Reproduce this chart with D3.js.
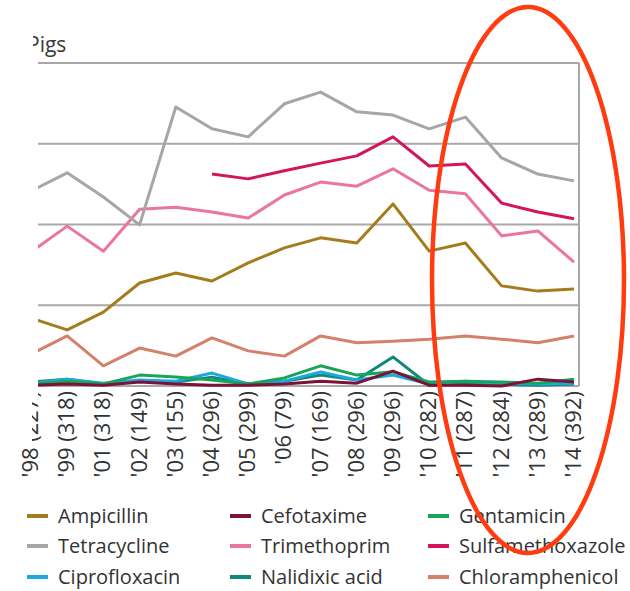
<!DOCTYPE html>
<html>
<head>
<meta charset="utf-8">
<script src="https://cdn.jsdelivr.net/npm/d3@7"></script>
<style>
  body { margin: 0; background: white; }
  svg text { font-family: "Open Sans", "Noto Sans", sans-serif; fill: #333; }
</style>
</head>
<body>
<svg id="chart" width="630" height="591"></svg>
<script>
// years on the x axis, with number of isolates
const years = ["'98", "'99", "'01", "'02", "'03", "'04", "'05", "'06", "'07", "'08", "'09", "'10", "'11", "'12", "'13", "'14"];
const isolates = [227, 318, 318, 149, 155, 296, 299, 79, 169, 296, 296, 282, 287, 284, 289, 392];

// % resistant
const ampicillin       = [16.8, 13.9, 18.3, 25.5, 28.0, 26.0, 30.5, 34.2, 36.7, 35.4, 45.1, 33.4, 35.4, 24.8, 23.5, 24.0];
const cefotaxime       = [0.2, 0.5, 0.2, 1.0, 0.5, 0.2, 0.2, 0.5, 1.2, 0.7, 3.7, 0.2, 0.2, 0.0, 1.7, 1.0];
const gentamicin       = [0.5, 1.2, 0.5, 2.7, 2.2, 1.5, 0.5, 2.0, 5.0, 2.7, 3.5, 1.0, 1.2, 1.0, 0.7, 1.7];
const tetracycline     = [48.3, 52.8, 46.8, 39.9, 69.1, 63.7, 61.7, 69.9, 72.8, 67.9, 67.1, 63.7, 66.6, 56.5, 52.5, 50.8];
const trimethoprim     = [33.2, 39.6, 33.4, 43.8, 44.3, 43.1, 41.6, 47.3, 50.5, 49.5, 53.8, 48.5, 47.6, 37.2, 38.4, 30.7];
const sulfamethoxazole = [null, null, null, null, null, 52.5, 51.3, 53.3, 55.2, 57.0, 61.7, 54.5, 55.0, 45.3, 43.1, 41.4];
const ciprofloxacin    = [0.7, 1.7, 0.7, 1.5, 1.2, 3.2, 0.5, 1.2, 3.5, 1.5, 2.7, 0.5, 1.2, 0.7, 0.5, 0.7];
const nalidixic        = [1.0, 1.7, 0.5, 1.2, 1.0, 2.2, 0.5, 1.2, 2.7, 1.5, 7.2, 0.2, 0.7, 0.5, 0.2, 0.5];
const chloramphenicol  = [7.9, 12.4, 5.0, 9.4, 7.4, 11.9, 8.7, 7.4, 12.4, 10.7, 11.1, 11.6, 12.4, 11.6, 10.7, 12.4];

const yTicks = [0, 20, 40, 60, 80];

const series = [
   { name: 'Ampicillin', values: ampicillin, color: '#a57c1b' },
   { name: 'Cefotaxime', values: cefotaxime, color: '#7d1238' },
   { name: 'Gentamicin', values: gentamicin, color: '#1aa45a' },
   { name: 'Tetracycline', values: tetracycline, color: '#a6a6a6' },
   { name: 'Trimethoprim', values: trimethoprim, color: '#ec74a0' },
   { name: 'Sulfamethoxazole', values: sulfamethoxazole, color: '#d2155c' },
   { name: 'Ciprofloxacin', values: ciprofloxacin, color: '#1ea8e0' },
   { name: 'Nalidixic acid', values: nalidixic, color: '#11897a' },
   { name: 'Chloramphenicol', values: chloramphenicol, color: '#d5806a' }
];

const svg = d3.select('#chart');

let x = d3.scalePoint().domain(years).range([31, 574]);
let y = d3.scaleLinear().domain([0, 80]).range([386, 63]);

// gridlines + right frame
svg.append('g')
   .selectAll('line')
   .data(yTicks)
   .enter().append('line')
   .attr('x1', 0).attr('x2', 579)
   .attr('y1', d => y(d)).attr('y2', d => y(d))
   .style('stroke', '#a8a8a8')
   .style('stroke-width', '2px');

svg.append('line')
   .attr('x1', 579).attr('x2', 579)
   .attr('y1', y(80)).attr('y2', y(0))
   .style('stroke', '#a8a8a8')
   .style('stroke-width', '2px');

// series lines (drawn in reverse so the first legend entries sit on top)
let line = d3.line()
   .defined(d => d.v != null)
   .x(d => x(d.year))
   .y(d => y(d.v));

svg.append('g')
   .selectAll('path')
   .data(series.slice().reverse())
   .enter().append('path')
   .attr('d', s => line(s.values.map((v, i) => ({ year: years[i], v: v }))))
   .style('fill', 'none')
   .style('stroke', s => s.color)
   .style('stroke-width', '3px')
   .style('stroke-linejoin', 'round');

// rotated year labels
svg.append('g')
   .selectAll('text')
   .data(years)
   .enter().append('text')
   .attr('transform', (d, i) => `translate(${x(d) + 7},391) rotate(-90)`)
   .attr('text-anchor', 'end')
   .style('font-size', '22px')
   .text((d, i) => `${d} (${isolates[i]})`);

// title
svg.append('text')
   .attr('x', 27).attr('y', 52)
   .style('font-size', '21px')
   .style('fill', '#3a3a3a')
   .text('Pigs');

// the picture is cropped on the left
svg.append('rect').attr('x', 0).attr('y', 0).attr('width', 33).attr('height', 56).style('fill', 'white');
svg.append('rect').attr('x', 0).attr('y', 56).attr('width', 38).attr('height', 339).style('fill', 'white');
svg.append('rect').attr('x', 0).attr('y', 395).attr('width', 32).attr('height', 50).style('fill', 'white');

// legend, three columns
let legendCols = [27, 230, 428];
let legendRows = [516, 546, 577];

let legend = svg.append('g')
   .selectAll('g')
   .data(series)
   .enter().append('g')
   .attr('transform', (d, i) => `translate(${legendCols[i % 3]},${legendRows[Math.floor(i / 3)]})`);

legend.append('line')
   .attr('x1', 0).attr('x2', 21)
   .attr('y1', 0).attr('y2', 0)
   .style('stroke', d => d.color)
   .style('stroke-width', '4px');

legend.append('text')
   .attr('x', 31)
   .attr('dy', '0.35em')
   .style('font-size', '20px')
   .text(d => d.name);

// red highlight ellipse over the last years
svg.append('ellipse')
   .attr('cx', 528).attr('cy', 280)
   .attr('rx', 96).attr('ry', 273)
   .style('fill', 'none')
   .style('stroke', '#ff3b0f')
   .style('stroke-width', '4.5px');
</script>
</body>
</html>
